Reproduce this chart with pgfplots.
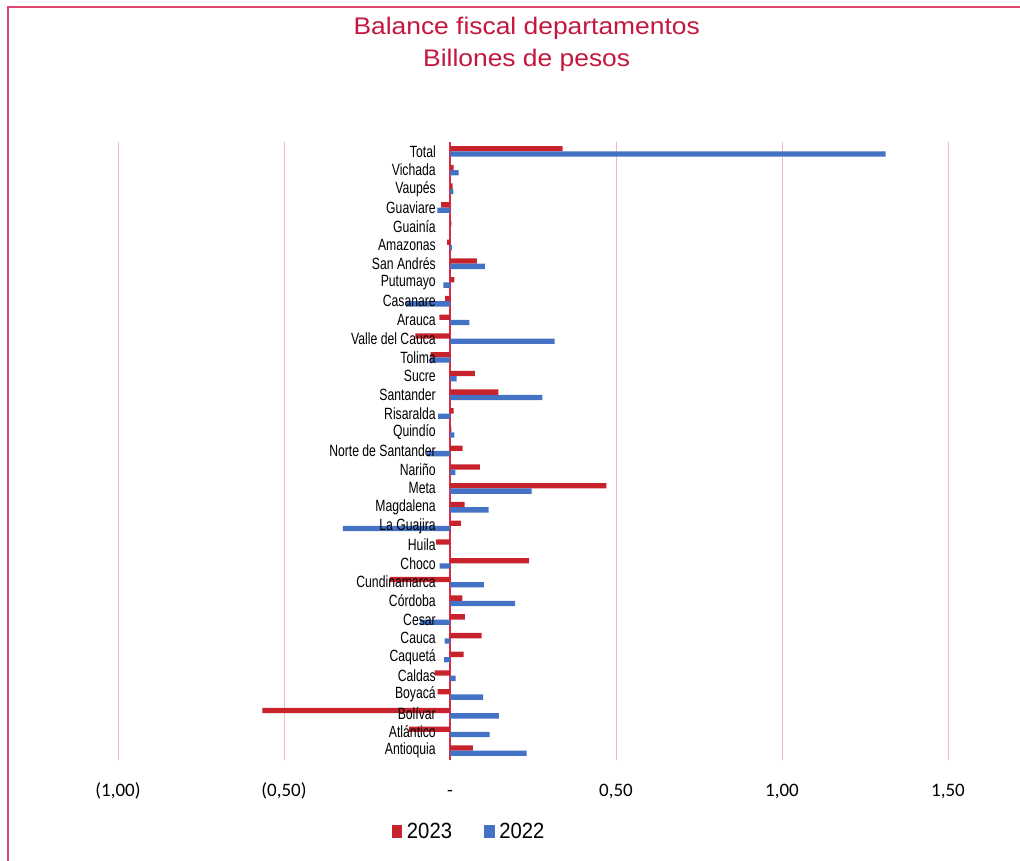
\documentclass[border=0pt]{standalone}
\usepackage{pgfplots}
\pgfplotsset{compat=1.18}
\usepackage{pgfplotstable}
\usepackage{fontspec}
\setmainfont{Liberation Sans}
\newfontfamily\titlefont[FakeStretch=1.1]{Liberation Sans}
\newfontfamily\catfont[FakeStretch=0.75]{Liberation Sans}
\newfontfamily\legfont[FakeStretch=0.92]{Liberation Sans}
\newfontfamily\tickfont{Carlito}

\definecolor{bar23}{RGB}{200,35,45}
\definecolor{bar22}{RGB}{68,114,196}
\definecolor{titlered}{RGB}{196,22,62}
\definecolor{gridpink}{RGB}{243,185,195}
\definecolor{zerored}{RGB}{214,45,70}
\definecolor{framepink}{RGB}{224,72,112}

% common frame of both axes
\pgfplotsset{
  frame/.style={
    at={(88.5pt,75pt)}, anchor=south west,
    scale only axis, width=622.5pt, height=463.5pt,
    xmin=-1, xmax=1.5, ymin=-0.5, ymax=32.5,
    axis line style={draw=none},
    major tick length=0pt,
  },
}

% Balance fiscal por departamento (billones de pesos), fila 0 = Antioquia ... 32 = Total
\pgfplotstableread{
idx v2023 v2022
0  0.069  0.231
1  -0.123 0.119
2  -0.565 0.147
3  -0.037 0.100
4  -0.046 0.017
5  0.041  -0.018
6  0.095  -0.016
7  0.045  -0.090
8  0.037  0.196
9  -0.180 0.102
10 0.238  -0.031
11 -0.042 0.000
12 0.033  -0.323
13 0.044  0.116
14 0.471  0.246
15 0.090  0.016
16 0.038  -0.070
17 0.004  0.013
18 0.011  -0.036
19 0.146  0.278
20 0.075  0.020
21 -0.058 -0.060
22 -0.104 0.315
23 -0.032 0.058
24 -0.015 -0.132
25 0.013  -0.020
26 0.081  0.105
27 -0.009 0.006
28 0.004  0.000
29 -0.027 -0.038
30 0.008  0.010
31 0.011  0.026
32 0.339  1.312
}\balance

\begin{document}
\begin{tikzpicture}
\path[use as bounding box] (0,0) rectangle (765pt,645pt);
% marco
\draw[framepink, line width=1.4pt] (6pt,-5pt) -- (6pt,639.75pt) -- (770pt,639.75pt);
% titulo
\node[anchor=base, text=titlered, inner sep=0pt, font=\titlefont\fontsize{18}{22}\selectfont] at (395pt,618.75pt) {Balance fiscal departamentos};
\node[anchor=base, text=titlered, inner sep=0pt, font=\titlefont\fontsize{18}{22}\selectfont] at (395pt,594.75pt) {Billones de pesos};
% barras, rejilla, eje x y leyenda
\begin{axis}[
  frame,
  xbar, bar width=4pt,
  xtick={-1,-0.5,0.5,1,1.5},
  xticklabels={{(1,00)},{(0,50)},{0,50},{1,00},{1,50}},
  extra x ticks={0}, extra x tick labels={-},
  extra x tick style={grid style={zerored, line width=1.1pt}},
  xmajorgrids, grid style={gridpink, line width=0.75pt},
  xticklabel style={font=\tickfont\fontsize{14.25}{16}\selectfont, anchor=base, inner sep=0pt, yshift=-27pt},
  ytick=\empty,
  legend columns=2,
  legend image code/.code={\fill[#1] (0pt,-4.75pt) rectangle (8pt,4.75pt);},
  legend style={at={(0.4217,-0.116)}, anchor=center, draw=none, fill=none, inner sep=0pt,
    nodes={inner sep=0pt},
    font=\legfont\fontsize{16.5}{18}\selectfont,
    /tikz/every odd column/.append style={column sep=3.5pt},
    /tikz/every even column/.append style={column sep=24pt}},
]
\addplot[fill=bar23, draw=none, bar shift=2pt] table[x=v2023, y=idx]{\balance};
\addplot[fill=bar22, draw=none, bar shift=-2pt] table[x=v2022, y=idx]{\balance};
\legend{2023,2022}
\end{axis}
% nombres de los departamentos, sobre las barras
\begin{axis}[
  frame,
  xtick=\empty,
  ytick={0,...,32},
  yticklabels={Antioquia,Atlántico,Bolívar,Boyacá,Caldas,Caquetá,Cauca,Cesar,Córdoba,Cundinamarca,Choco,Huila,La Guajira,Magdalena,Meta,Nariño,Norte de Santander,Quindío,Risaralda,Santander,Sucre,Tolima,Valle del Cauca,Arauca,Casanare,Putumayo,San Andrés,Amazonas,Guainía,Guaviare,Vaupés,Vichada,Total},
  yticklabel style={font=\catfont\fontsize{12.2}{14}\selectfont, anchor=east, inner sep=0pt, xshift=238.5pt},
]
\end{axis}
\end{tikzpicture}
\end{document}
